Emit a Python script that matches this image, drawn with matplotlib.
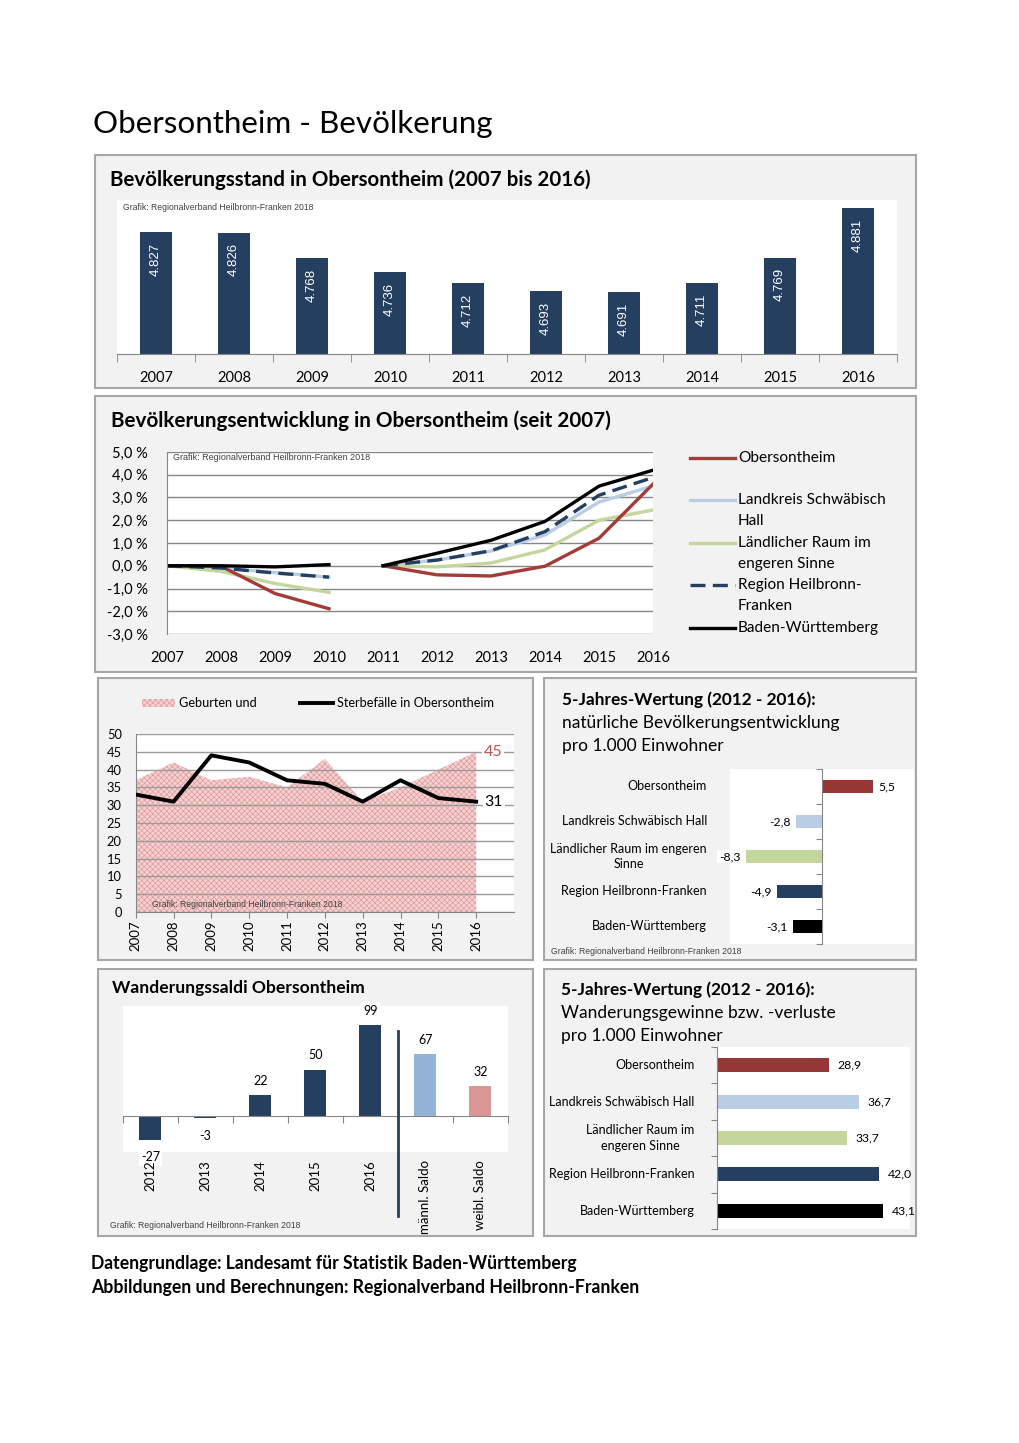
import matplotlib
matplotlib.use("Agg")
import matplotlib.pyplot as plt
from matplotlib.patches import Rectangle
from matplotlib.lines import Line2D

plt.rcParams['font.family'] = ['Lato', 'DejaVu Sans']
plt.rcParams['hatch.linewidth'] = 0.5

W, H = 1020, 1443

# ---- data ----
years = ['2007', '2008', '2009', '2010', '2011', '2012', '2013', '2014', '2015', '2016']
stand = [4827, 4826, 4768, 4736, 4712, 4693, 4691, 4711, 4769, 4881]
stand_lbl = ['4.827', '4.826', '4.768', '4.736', '4.712', '4.693', '4.691', '4.711', '4.769', '4.881']

# development in % (2007-2010 relative to 2007, 2011-2016 relative to 2011)
dev_obers = [0.0, -0.02, -1.22, -1.89, 0.0, -0.40, -0.45, -0.02, 1.21, 3.59]
dev_kreis = [0.0, -0.10, -0.30, -0.50, 0.0, 0.25, 0.65, 1.35, 2.80, 3.50]
dev_land = [0.0, -0.25, -0.78, -1.17, 0.0, -0.05, 0.12, 0.70, 2.00, 2.45]
dev_region = [0.0, -0.10, -0.32, -0.50, 0.0, 0.25, 0.66, 1.50, 3.10, 3.88]
dev_bw = [0.0, 0.0, -0.05, 0.05, 0.0, 0.55, 1.12, 1.95, 3.50, 4.20]

geburten = [37, 42, 37, 38, 35, 43, 31, 35, 40, 45]
sterbefaelle = [33, 31, 44, 42, 37, 36, 31, 37, 32, 31]

regions = ['Obersontheim', 'Landkreis Schwäbisch Hall', 'Ländlicher Raum im engeren\nSinne',
           'Region Heilbronn-Franken', 'Baden-Württemberg']
regions6 = ['Obersontheim', 'Landkreis Schwäbisch Hall', 'Ländlicher Raum im\nengeren Sinne',
            'Region Heilbronn-Franken', 'Baden-Württemberg']
natuerlich = [5.5, -2.8, -8.3, -4.9, -3.1]
wanderung = [28.9, 36.7, 33.7, 42.0, 43.1]

saldo_cats = ['2012', '2013', '2014', '2015', '2016', 'männl. Saldo', 'weibl. Saldo']
saldo_vals = [-27, -3, 22, 50, 99, 67, 32]

NAVY = '#243F60'
RED = '#953735'
LBLUE = '#B9CDE5'
GREEN = '#C3D69B'
reg_colors = [RED, LBLUE, GREEN, NAVY, 'black']
GRAFIK = 'Grafik: Regionalverband Heilbronn-Franken 2018'
ARIAL = ['Liberation Sans', 'DejaVu Sans']

fig = plt.figure(figsize=(W / 100, H / 100), dpi=100)
fig.patch.set_facecolor('white')


def add_ax(x0, y0, x1, y1):
    return fig.add_axes([x0 / W, 1 - y1 / H, (x1 - x0) / W, (y1 - y0) / H])


def ftext(x, y, s, **kw):
    kw.setdefault('va', 'center')
    return fig.text(x / W, 1 - y / H, s, **kw)


def panel(x0, y0, x1, y1):
    fig.add_artist(Rectangle((x0 / W, 1 - y1 / H), (x1 - x0) / W, (y1 - y0) / H,
                             transform=fig.transFigure, facecolor='#F2F2F2',
                             edgecolor='#A6A6A6', lw=1.5, zorder=-5))


def fline(x0, y0, x1, y1, **kw):
    fig.add_artist(Line2D([x0 / W, x1 / W], [1 - y0 / H, 1 - y1 / H],
                          transform=fig.transFigure, **kw))


ftext(93, 124, 'Obersontheim - Bevölkerung', fontsize=22.6)

# ---- panel 1: Bevölkerungsstand ----
panel(95, 155, 916, 388)
ftext(110, 180, 'Bevölkerungsstand in Obersontheim (2007 bis 2016)', fontsize=14.8, fontweight='bold')
ax1 = add_ax(117, 200, 897, 354)
x = list(range(len(years)))
ax1.bar(x, stand, width=0.4, color=NAVY)
ax1.set_xlim(-0.5, 9.5)
ax1.set_ylim(4550, 4900)
for s in ['top', 'left', 'right']:
    ax1.spines[s].set_visible(False)
ax1.spines['bottom'].set_color('#868686')
ax1.set_yticks([])
ax1.set_xticks(x)
ax1.set_xticklabels(years, fontsize=10.5)
ax1.set_xticks([i - 0.5 for i in range(11)], minor=True)
ax1.tick_params(axis='x', which='major', length=0, pad=12)
ax1.tick_params(axis='x', which='minor', length=6, color='#868686')
for i, v in enumerate(stand):
    ax1.text(i, v - 24, stand_lbl[i], rotation=90, ha='center', va='top', color='white',
             fontsize=9.5, family=ARIAL)
ax1.text(0.008, 0.95, GRAFIK, transform=ax1.transAxes, fontsize=6.2, family=ARIAL,
         color='#404040', va='center')

# ---- panel 2: Bevölkerungsentwicklung ----
panel(95, 396, 916, 672)
ftext(111, 421, 'Bevölkerungsentwicklung in Obersontheim (seit 2007)', fontsize=14.9, fontweight='bold')
ax2 = add_ax(167, 452, 653, 634)
ax2.set_xlim(0, 9)
ax2.set_ylim(-3, 5)
series = [(dev_kreis, LBLUE, '-'), (dev_land, GREEN, '-'), (dev_obers, '#A33B38', '-'),
          (dev_region, NAVY, (0, (4.5, 2.2))), (dev_bw, 'black', '-')]
for vals, col, ls in series:
    ax2.plot(x[:4], vals[:4], color=col, lw=2.4, ls=ls)
    ax2.plot(x[4:], vals[4:], color=col, lw=2.4, ls=ls)
ax2.set_yticks(range(-3, 6))
ax2.set_yticklabels([f'{v},0 %' for v in range(-3, 6)], fontsize=10.5)
ax2.set_xticks(x)
ax2.set_xticklabels(years, fontsize=10.5)
ax2.tick_params(axis='both', length=0)
ax2.tick_params(axis='y', pad=14)
ax2.tick_params(axis='x', pad=12)
ax2.grid(axis='y', color='#868686', lw=1)
ax2.set_axisbelow(True)
for s in ['top', 'right', 'bottom']:
    ax2.spines[s].set_visible(False)
ax2.spines['left'].set_color('#868686')
ax2.text(0.013, 0.97, GRAFIK, transform=ax2.transAxes, fontsize=6.5, family=ARIAL,
         color='#404040', va='center')
leg = [('Obersontheim', '#A33B38', '-', 458, None),
       ('Landkreis Schwäbisch', LBLUE, '-', 500, 'Hall'),
       ('Ländlicher Raum im', GREEN, '-', 543, 'engeren Sinne'),
       ('Region Heilbronn-', NAVY, (0, (4.5, 2.2)), 585, 'Franken'),
       ('Baden-Württemberg', 'black', '-', 628, None)]
for name, col, ls, yl, extra in leg:
    fline(690, yl, 735, yl, color=col, lw=2.4, ls=ls)
    ftext(738, yl, name, fontsize=11.1)
    if extra:
        ftext(738, yl + 21, extra, fontsize=11.1)

# ---- panel 3: Geburten und Sterbefälle ----
panel(98, 678, 533, 960)
ax3 = add_ax(135.7, 734, 514, 912)
ax3.set_xlim(0, 10)
ax3.set_ylim(0, 50)
ax3.fill_between(x, geburten, 0, facecolor='#F4D2D2', edgecolor='#E29898', hatch='xxxxxx', lw=0, zorder=1)
ax3.plot(x, sterbefaelle, color='black', lw=2.8, zorder=3)
ax3.set_yticks(range(0, 51, 5))
ax3.tick_params(axis='y', length=0, labelsize=9.3, pad=10)
ax3.set_xticks(x)
ax3.set_xticklabels(years, rotation=90, fontsize=9.5)
ax3.tick_params(axis='x', length=4, color='#868686', pad=2)
ax3.grid(axis='y', color='#9A9A9A', lw=1, zorder=2)
for s in ['top', 'right']:
    ax3.spines[s].set_visible(False)
ax3.spines['left'].set_color('#868686')
ax3.spines['bottom'].set_color('#868686')
ax3.text(9.45, 45, '45', color='#C0504D', fontsize=11.5, ha='center', va='center', zorder=4,
         bbox=dict(facecolor='white', edgecolor='none', pad=1))
ax3.text(9.47, 31, '31', color='black', fontsize=11.5, ha='center', va='center', zorder=4,
         bbox=dict(facecolor='white', edgecolor='none', pad=1))
ax3.text(0.43, 2.2, GRAFIK, fontsize=6.2, family=ARIAL, color='#404040', va='center', zorder=4)
fig.add_artist(Rectangle((142 / W, 1 - 707 / H), 33 / W, 8 / H, transform=fig.transFigure,
                         facecolor='#F4D2D2', edgecolor='#E29898', hatch='xxxxxx', lw=0))
ftext(179, 703, 'Geburten und', fontsize=9.2)
fline(300, 703, 333, 703, color='black', lw=2.8)
ftext(337, 703, 'Sterbefälle in Obersontheim', fontsize=9.2)

# ---- panel 4: natürliche Bevölkerungsentwicklung ----
panel(544, 678, 916, 960)
ftext(562, 700, '5-Jahres-Wertung (2012 - 2016):', fontsize=12.4, fontweight='bold')
ftext(562, 723, 'natürliche Bevölkerungsentwicklung', fontsize=12.5)
ftext(562, 746, 'pro 1.000 Einwohner', fontsize=12.5)
ax4 = add_ax(730, 769, 914, 944)
ypos = list(range(len(regions)))
ax4.barh(ypos, natuerlich, height=0.38, color=reg_colors)
ax4.set_xlim(-10, 10)
ax4.set_ylim(4.5, -0.5)
for s in ['top', 'right', 'bottom']:
    ax4.spines[s].set_visible(False)
ax4.spines['left'].set_position(('data', 0))
ax4.spines['left'].set_color('#868686')
ax4.set_xticks([])
ax4.set_yticks([i - 0.5 for i in range(6)])
ax4.set_yticklabels([])
ax4.tick_params(axis='y', length=4, color='#868686')
for i, v in enumerate(natuerlich):
    lbl = f'{v:.1f}'.replace('.', ',')
    if v >= 0:
        ax4.text(v + 0.6, i, lbl, ha='left', va='center', fontsize=8.8)
    else:
        ax4.text(v - 0.6, i, lbl, ha='right', va='center', fontsize=8.8,
                 bbox=dict(facecolor='white', edgecolor='none', pad=1), clip_on=False)
    ax4.text(-0.125, i, regions[i], transform=ax4.get_yaxis_transform(), ha='right',
             va='center', multialignment='center', fontsize=9, linespacing=1.3)
ftext(551, 951, GRAFIK, fontsize=6.2, family=ARIAL, color='#404040')

# ---- panel 5: Wanderungssaldi ----
panel(98, 969, 533, 1236)
ftext(112, 988, 'Wanderungssaldi Obersontheim', fontsize=12.6, fontweight='bold')
ax5 = add_ax(123, 1006, 508, 1152)
sx = list(range(len(saldo_cats)))
ax5.bar(sx, saldo_vals, width=0.4, color=[NAVY] * 5 + ['#95B3D7', '#D99694'])
ax5.set_xlim(-0.5, 6.5)
ax5.set_ylim(-40, 120)
for s in ['top', 'right', 'left']:
    ax5.spines[s].set_visible(False)
ax5.spines['bottom'].set_position(('data', 0))
ax5.spines['bottom'].set_color('#868686')
ax5.set_yticks([])
ax5.set_xticks([i - 0.5 for i in range(8)])
ax5.set_xticklabels([])
ax5.tick_params(axis='x', length=5, color='#868686')
for i, v in enumerate(saldo_vals):
    yl = v + 16 if v >= 0 else v - 19
    ax5.text(i, yl, str(v), ha='center', va='center', fontsize=9,
             bbox=dict(facecolor='white', edgecolor='none', pad=1.5), clip_on=False)
    ax5.text(i, -0.055, saldo_cats[i], transform=ax5.get_xaxis_transform(), rotation=90,
             ha='center', va='top', fontsize=9.5)
fline(398, 1031, 398, 1216, color=NAVY, lw=2)
ftext(110, 1226, GRAFIK, fontsize=6.2, family=ARIAL, color='#404040')

# ---- panel 6: Wanderungsgewinne ----
panel(544, 969, 916, 1236)
ftext(561, 990, '5-Jahres-Wertung (2012 - 2016):', fontsize=12.4, fontweight='bold')
ftext(561, 1013, 'Wanderungsgewinne bzw. -verluste', fontsize=12.5)
ftext(561, 1036, 'pro 1.000 Einwohner', fontsize=12.5)
ax6 = add_ax(717, 1047, 910, 1229)
ax6.barh(ypos, wanderung, height=0.38, color=reg_colors)
ax6.set_xlim(0, 50)
ax6.set_ylim(4.5, -0.5)
for s in ['top', 'right', 'bottom']:
    ax6.spines[s].set_visible(False)
ax6.spines['left'].set_color('#868686')
ax6.set_xticks([])
ax6.set_yticks([i - 0.5 for i in range(6)])
ax6.set_yticklabels([])
ax6.tick_params(axis='y', length=4, color='#868686')
for i, v in enumerate(wanderung):
    lbl = f'{v:.1f}'.replace('.', ',')
    ax6.text(v + 2.3, i, lbl, ha='left', va='center', fontsize=8.8, clip_on=False)
    ax6.text(-0.115, i, regions6[i], transform=ax6.get_yaxis_transform(), ha='right',
             va='center', multialignment='center', fontsize=9, linespacing=1.3)

# ---- footer ----
ftext(91, 1263, 'Datengrundlage: Landesamt für Statistik Baden-Württemberg', fontsize=12.7, fontweight='bold')
ftext(91, 1288, 'Abbildungen und Berechnungen: Regionalverband Heilbronn-Franken', fontsize=12.7, fontweight='bold')

fig.savefig('out.png', dpi=100)
